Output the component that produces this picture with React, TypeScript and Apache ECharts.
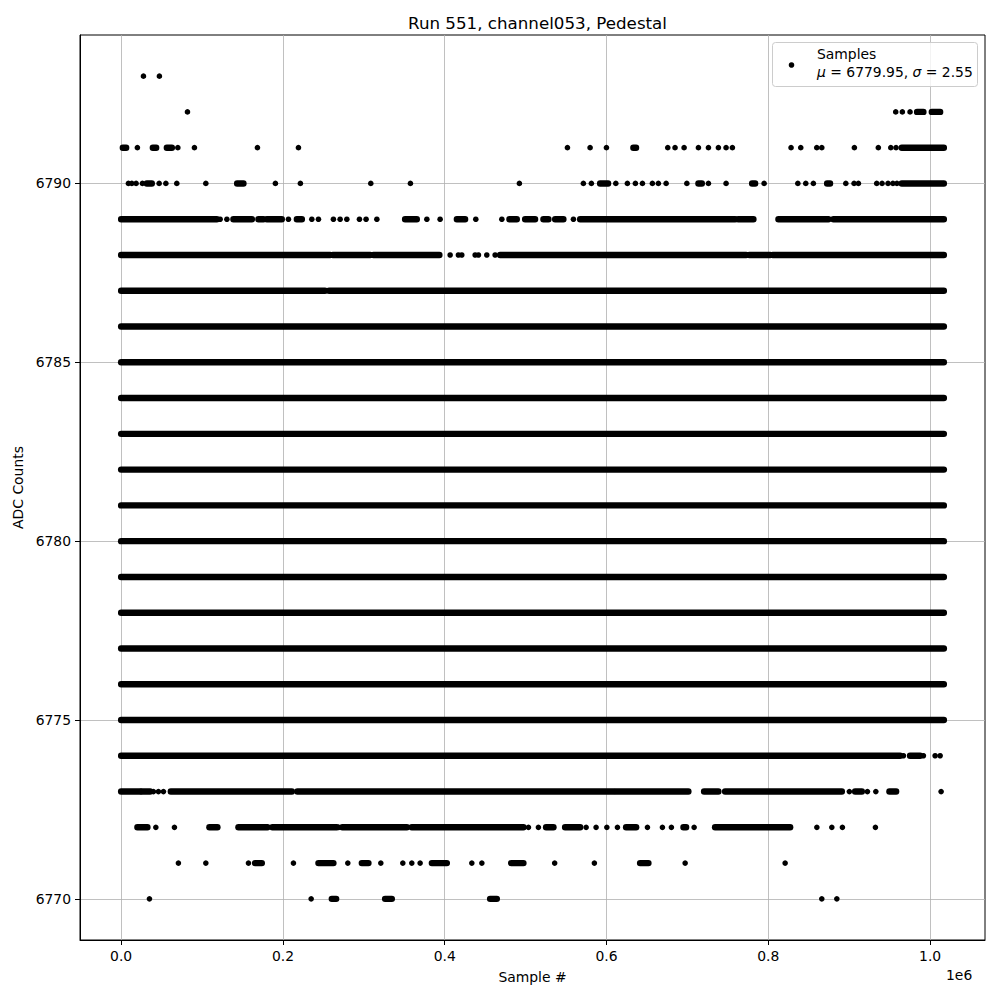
import React, { useEffect, useRef } from "react";
import * as echarts from "echarts";

// ---- data (sample index, ADC level) ----
const X_MAX = 1017000;
const X_TICKS = [0, 200000, 400000, 600000, 800000, 1000000];
const Y_TICKS = [6770, 6775, 6780, 6785, 6790];
const DENSE_LEVELS = [6775, 6776, 6777, 6778, 6779, 6780, 6781, 6782, 6783, 6784, 6785, 6786];

const pts6793 = [27600, 47300];
const pts6792 = [82000, 957500, 965700, 975200];
const seg6792 = [[983900, 991700], [1002100, 1012400]];
const pts6791 = [20100, 70100, 90600, 168500, 219200, 551700, 579700, 599900, 675700, 684700, 695900, 713600, 726000, 738300, 747800, 755600, 828100, 840100, 859900, 866100, 906400, 936000, 951400, 957900];
const seg6791 = [[2100, 6200], [39200, 43300], [56500, 62700], [633200, 636500], [965000, X_MAX]];
const pts6790 = [9000, 13200, 18500, 26300, 47000, 55300, 68800, 104700, 190700, 221600, 308600, 357600, 492300, 571400, 581300, 611500, 625800, 635700, 644400, 656700, 664100, 673700, 699300, 726000, 747800, 794800, 836500, 846300, 855700, 895800, 906000, 911400, 934000, 940600, 948000, 954000, 959000];
const seg6790 = [[31800, 37900], [143400, 151200], [592100, 601900], [713600, 717800], [780000, 783700], [872700, 876300], [965000, X_MAX]];
const pts6789 = [122400, 130700, 206800, 235700, 243900, 262400, 270700, 279000, 294600, 302800, 316100, 377900, 394300, 438400, 470600, 559100];
const seg6789 = [[0, 118300], [138800, 161600], [169700, 175900], [180100, 198600], [217200, 223400], [351000, 365500], [415000, 425200], [480000, 489100], [499400, 511700], [522000, 528200], [536500, 546700], [567400, 759000], [762700, 781600], [812500, 874300], [880500, X_MAX]];
const pts6788 = [406700, 416900, 421100, 437600, 441700, 452000, 462300];
const seg6788 = [[0, 258300], [261700, 307800], [311900, 393400], [468500, 772600], [776600, 802200], [805500, X_MAX]];
const seg6787 = [[0, 252000], [257000, X_MAX]];
const pts6774 = [967000, 991700, 1006200, 1012400];
const seg6774 = [[0, 962900], [975200, 987600]];
const pts6773 = [39900, 46100, 52300, 900200, 922500, 932900, 1013600];
const seg6773 = [[0, 23500], [25600, 35800], [61400, 211000], [217900, 608600], [611500, 701200], [720600, 738300], [746600, 890900], [907300, 915600], [949700, 958000]];
const pts6772 = [42900, 65900, 269100, 503500, 515800, 574800, 587100, 600400, 613500, 650600, 669100, 680200, 708300, 860000, 878500, 891600, 932400];
const seg6772 = [[20100, 32500], [109100, 119000], [145000, 180800], [187000, 266600], [273500, 353200], [359300, 497300], [525300, 534400], [548800, 567400], [624200, 636600], [695100, 698400], [734200, 827000]];
const pts6771 = [70800, 104700, 157400, 213000, 280200, 321000, 348200, 359300, 369600, 433500, 445900, 535900, 585000, 697200, 820800];
const seg6771 = [[165600, 173900], [243900, 262400], [297500, 305700], [384100, 402600], [482100, 497300], [641500, 651800]];
const pts6770 = [35000, 234900, 866100, 884700];
const seg6770 = [[260400, 265800], [326300, 334600], [456100, 464400]];

const MU = "6779.95";
const SIGMA = "2.55";

const pointRows: [number, number[]][] = [
  [6793, pts6793], [6792, pts6792], [6791, pts6791], [6790, pts6790], [6789, pts6789],
  [6788, pts6788], [6774, pts6774], [6773, pts6773], [6772, pts6772], [6771, pts6771], [6770, pts6770],
];
const segRows: [number, number[][]][] = [
  [6792, seg6792], [6791, seg6791], [6790, seg6790], [6789, seg6789], [6788, seg6788],
  [6787, seg6787], [6774, seg6774], [6773, seg6773], [6772, seg6772], [6771, seg6771], [6770, seg6770],
  ...DENSE_LEVELS.map((l) => [l, [[0, X_MAX]]] as [number, number[][]]),
];

const FONT = "DejaVu Sans";

export default function App() {
  const ref = useRef<HTMLDivElement>(null);
  useEffect(() => {
    if (!ref.current) return;
    const chart = echarts.init(ref.current, null, { renderer: "svg" });
    const pointData: number[][] = [];
    pointRows.forEach(([lvl, xs]) => xs.forEach((x) => pointData.push([x, lvl])));
    const segData: number[][] = [];
    segRows.forEach(([lvl, segs]) => segs.forEach(([a, b]) => segData.push([a, lvl, b])));
    const H = 6.4;
    const D = 5.6;
    const xMin = -0.05 * X_MAX;
    const xMax = 1.05 * X_MAX;
    const yMin = 6770 - 0.05 * 23;
    const yMax = 6793 + 0.05 * 23;

    chart.setOption({
      animation: false,
      backgroundColor: "#fff",
      textStyle: { fontFamily: FONT },
      title: {
        text: "Run 551, channel053, Pedestal",
        left: 532.5,
        textAlign: "center",
        top: 9,
        textStyle: { fontFamily: FONT, fontSize: 16.7, fontWeight: "normal", color: "#000" },
      },
      grid: { left: 80, top: 35, width: 905, height: 905, show: true, borderColor: "#000", borderWidth: 1, backgroundColor: "transparent" },
      xAxis: {
        type: "value",
        min: xMin,
        max: xMax,
        name: "Sample #",
        nameLocation: "middle",
        nameGap: 30,
        nameTextStyle: { fontFamily: FONT, fontSize: 13.9, color: "#000" },
        axisLine: { show: true, onZero: false, lineStyle: { color: "#000", width: 1 } },
        axisTick: { show: true, length: 5, inside: false, customValues: X_TICKS, lineStyle: { color: "#000", width: 1 } },
        axisLabel: {
          customValues: X_TICKS,
          margin: 9,
          fontFamily: FONT,
          fontSize: 13.9,
          color: "#000",
          formatter: (v: number) => (v / 1e6).toFixed(1),
        },
        splitLine: { show: true, lineStyle: { color: "#b0b0b0", width: 0.8 } },
      },
      yAxis: {
        type: "value",
        min: yMin,
        max: yMax,
        name: "ADC Counts",
        nameLocation: "middle",
        nameGap: 49,
        nameRotate: 90,
        nameTextStyle: { fontFamily: FONT, fontSize: 13.9, color: "#000" },
        axisLine: { show: true, onZero: false, lineStyle: { color: "#000", width: 1 } },
        axisTick: { show: true, length: 5, inside: false, customValues: Y_TICKS, lineStyle: { color: "#000", width: 1 } },
        axisLabel: {
          customValues: Y_TICKS,
          margin: 9,
          fontFamily: FONT,
          fontSize: 13.9,
          color: "#000",
          formatter: (v: number) => String(v),
        },
        splitLine: { show: true, lineStyle: { color: "#b0b0b0", width: 0.8 } },
      },
      series: [
        {
          name: "Samples",
          type: "custom",
          clip: true,
          encode: { x: [0, 2], y: 1 },
          data: segData,
          renderItem: (params: any, api: any) => {
            const a = api.coord([api.value(0), api.value(1)]);
            const b = api.coord([api.value(2), api.value(1)]);
            return {
              type: "rect",
              shape: { x: a[0] - H / 2, y: a[1] - H / 2, width: b[0] - a[0] + H, height: H, r: H / 2 },
              style: { fill: "#000" },
            };
          },
        },
        {
          name: "Samples",
          type: "scatter",
          symbol: "circle",
          symbolSize: D,
          itemStyle: { color: "#000", opacity: 1 },
          data: pointData,
        },
      ],
      graphic: [
        {
          type: "text",
          left: 946,
          top: 968,
          style: { text: "1e6", fontFamily: FONT, fontSize: 13.9, fill: "#000" },
        },
        {
          type: "rect",
          shape: { x: 772.5, y: 42.5, width: 205, height: 44, r: 3 },
          style: { fill: "rgba(255,255,255,0.8)", stroke: "#cccccc", lineWidth: 1 },
          z: 100,
        },
        {
          type: "circle",
          shape: { cx: 791.5, cy: 65, r: D / 2 },
          style: { fill: "#000" },
          z: 101,
        },
        {
          type: "text",
          x: 817,
          y: 54,
          style: { text: "Samples", fontFamily: FONT, fontSize: 13.9, fill: "#000", verticalAlign: "middle", align: "left" },
          z: 101,
        },
        {
          type: "text",
          x: 817,
          y: 72,
          style: {
            text: `{i|μ} = ${MU}, {i|σ} = ${SIGMA}`,
            fontFamily: FONT,
            fontSize: 13.9,
            fill: "#000",
            verticalAlign: "middle",
            align: "left",
            rich: { i: { fontStyle: "italic", fontFamily: FONT, fontSize: 13.9, fill: "#000" } },
          },
          z: 101,
        },
      ],
    });
    return () => chart.dispose();
  }, []);
  return <div ref={ref} style={{ position: "fixed", left: 0, top: 0, width: 1000, height: 1000 }} />;
}
